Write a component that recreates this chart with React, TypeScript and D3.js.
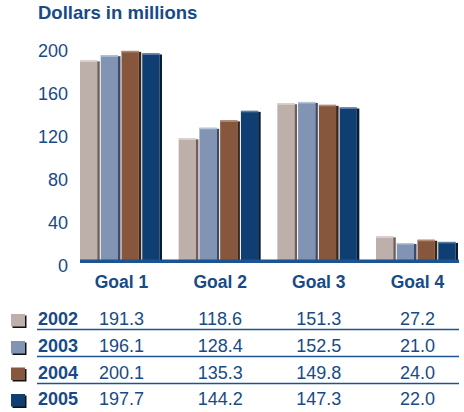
import React from "react";
import * as d3 from "d3";

const goals = ["Goal 1", "Goal 2", "Goal 3", "Goal 4"];
const years = ["2002", "2003", "2004", "2005"];
const values2002 = [191.3, 118.6, 151.3, 27.2];
const values2003 = [196.1, 128.4, 152.5, 21.0];
const values2004 = [200.1, 135.3, 149.8, 24.0];
const values2005 = [197.7, 144.2, 147.3, 22.0];
const series = [values2002, values2003, values2004, values2005];
const yTicks = [0, 40, 80, 120, 160, 200];

const bodyColors = ["#bdb0ab", "#8294b4", "#87573d", "#0f3f72"];
const sideColors = ["#6f5e59", "#3d4b68", "#3b2519", "#061b35"];
const topColors = ["#ddd5d2", "#b7c3d8", "#b08a73", "#5a7aa0"];
const blue = "#184a86";
const font = "'Liberation Sans', Arial, Helvetica, sans-serif";

export default function App() {
  const W = 464, H = 412;
  const x = d3.scaleBand<string>().domain(goals).range([80, 459]).paddingInner(0.159).paddingOuter(0);
  const xi = d3.scaleBand<string>().domain(years).range([0, x.bandwidth()]).paddingInner(0);
  const y = d3.scaleLinear().domain([0, 200]).range([265.5, 51]);
  const baseY = 261;
  const sideW = 2.5;
  const rowBase = [325, 352, 378.5, 405];
  const lineY = [329.5, 356.5, 383.5];

  return (
    <svg width={W} height={H} style={{ position: "absolute", left: 0, top: 0 }} fontFamily={font}>
      <text x={38} y={19} fill={blue} fontWeight="bold" fontSize={18.5}>Dollars in millions</text>
      {yTicks.map((t) => (
        <text key={t} x={68} y={y(t)} dy="0.35em" textAnchor="end" fill={blue} fontSize={18}>{t}</text>
      ))}
      {goals.map((g, gi) => (
        <g key={g} transform={`translate(${x(g)},0)`}>
          {years.map((yr, si) => {
            const v = series[si][gi];
            const x0 = xi(yr)!;
            const w = xi.step() - 1;
            const top = y(v);
            return (
              <g key={yr}>
                <rect x={x0} y={top} width={w - sideW} height={baseY - top} fill={bodyColors[si]} />
                <rect x={x0 + w - sideW} y={top + 1} width={sideW} height={baseY - top - 1} fill={sideColors[si]} />
                <rect x={x0} y={top} width={w - sideW} height={1.5} fill={topColors[si]} />
              </g>
            );
          })}
        </g>
      ))}
      <rect x={80} y={baseY - 1.5} width={379} height={3.5} fill="#1c5392" />
      {goals.map((g) => (
        <text key={g} x={x(g)! + x.bandwidth() / 2} y={288} textAnchor="middle" fill={blue} fontWeight="bold" fontSize={17.5}>{g}</text>
      ))}
      {years.map((yr, si) => (
        <g key={yr}>
          <rect x={12.5} y={rowBase[si] - 9.5} width={14} height={12.5} fill="#111" />
          <rect x={11} y={rowBase[si] - 11} width={14} height={12.5} fill={bodyColors[si]} />
          <text x={38} y={rowBase[si]} fill={blue} fontWeight="bold" fontSize={18}>{yr}</text>
          {goals.map((g, gi) => (
            <text key={g} x={x(g)! + x.bandwidth() / 2} y={rowBase[si]} textAnchor="middle" fill={blue} fontSize={18}>
              {series[si][gi].toFixed(1)}
            </text>
          ))}
        </g>
      ))}
      {lineY.map((ly) => (
        <line key={ly} x1={37} x2={459} y1={ly} y2={ly} stroke="#1c5392" strokeWidth={1.5} />
      ))}
    </svg>
  );
}
